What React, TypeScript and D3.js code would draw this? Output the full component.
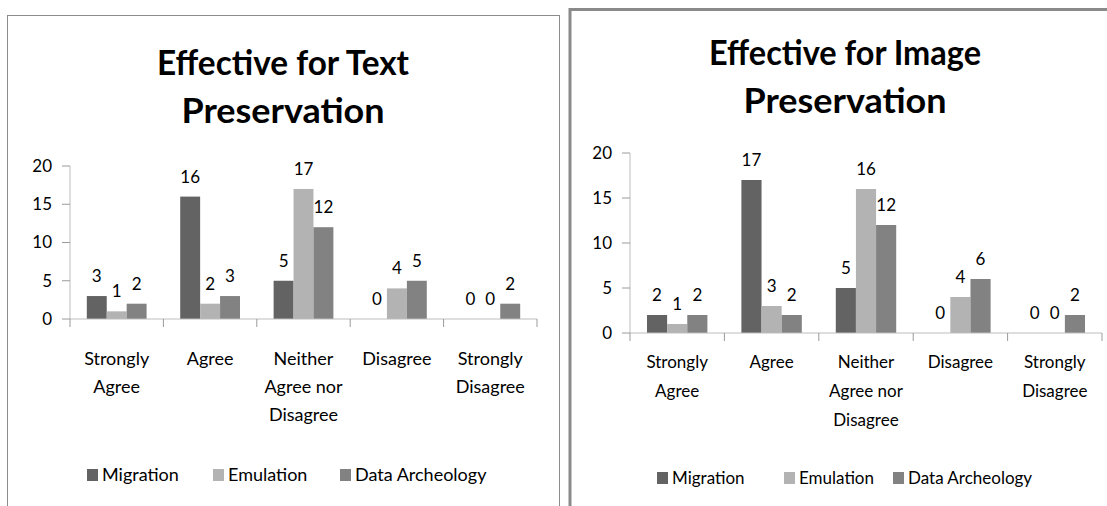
import React from "react";
import * as d3 from "d3";

const categories = [
  ["Strongly", "Agree"],
  ["Agree"],
  ["Neither", "Agree nor", "Disagree"],
  ["Disagree"],
  ["Strongly", "Disagree"],
];
const seriesNames = ["Migration", "Emulation", "Data Archeology"];
const seriesColors = ["#636363", "#b3b3b3", "#828282"];
const yTicks = [0, 5, 10, 15, 20];

const textMigration = [3, 16, 5, 0, 0];
const textEmulation = [1, 2, 17, 4, 0];
const textDataArcheology = [2, 3, 12, 5, 2];

const imageMigration = [2, 17, 5, 0, 0];
const imageEmulation = [1, 3, 16, 4, 0];
const imageDataArcheology = [2, 2, 12, 6, 2];

const FONT = "Lato, 'Open Sans', sans-serif";

type Layout = {
  title: string[];
  titleX: number;
  titleY: number[];
  titleWidths: number[];
  titleSize: number;
  x0: number;
  x1: number;
  yTop: number;
  yBottom: number;
  tickSize: number;
  catY: number;
  catStep: number;
  catSize: number;
  legendY: number;
  legendX: number[];
  legendSize: number;
};

function Chart({ values, layout }: { values: number[][]; layout: Layout }) {
  const L = layout;
  const x = d3
    .scaleBand<number>()
    .domain(categories.map((_, i) => i))
    .range([L.x0, L.x1]);
  const bw = x.bandwidth();
  const inner = d3
    .scaleBand<number>()
    .domain(seriesNames.map((_, i) => i))
    .range([bw * 0.18, bw * 0.82]);
  const y = d3.scaleLinear().domain([0, 20]).range([L.yBottom, L.yTop]);

  return (
    <g fontFamily={FONT}>
      {L.title.map((t, i) => (
        <text
          key={t}
          x={L.titleX}
          y={L.titleY[i]}
          textAnchor="middle"
          fontSize={L.titleSize}
          fontWeight="bold"
          textLength={L.titleWidths[i]}
          lengthAdjust="spacingAndGlyphs"
        >
          {t}
        </text>
      ))}

      {/* y axis */}
      <line x1={L.x0} x2={L.x0} y1={y(20)} y2={y(0)} stroke="#bdbdbd" />
      {yTicks.map((t) => (
        <g key={t}>
          <line x1={L.x0 - 8} x2={L.x0} y1={y(t)} y2={y(t)} stroke="#9a9a9a" />
          <text
            x={L.x0 - 18}
            y={y(t)}
            dy="0.35em"
            textAnchor="end"
            fontSize={L.tickSize}
          >
            {t}
          </text>
        </g>
      ))}

      {/* bars */}
      {values.map((vals, s) =>
        vals.map((v, c) => {
          const bx = (x(c) as number) + (inner(s) as number);
          return (
            <g key={`${s}-${c}`}>
              <rect
                x={bx}
                y={y(v)}
                width={inner.bandwidth()}
                height={y(0) - y(v)}
                fill={seriesColors[s]}
              />
              <text
                x={bx + inner.bandwidth() / 2}
                y={y(v) - 14}
                textAnchor="middle"
                fontSize={L.tickSize}
              >
                {v}
              </text>
            </g>
          );
        })
      )}

      {/* x axis */}
      <line x1={L.x0} x2={L.x1} y1={y(0)} y2={y(0)} stroke="#bdbdbd" />
      {d3.range(categories.length + 1).map((i) => {
        const tx = L.x0 + i * bw;
        return (
          <line key={i} x1={tx} x2={tx} y1={y(0)} y2={y(0) + 8} stroke="#9a9a9a" />
        );
      })}
      {categories.map((lines, c) => (
        <text
          key={c}
          x={(x(c) as number) + bw / 2}
          textAnchor="middle"
          fontSize={L.catSize}
        >
          {lines.map((ln, k) => (
            <tspan key={k} x={(x(c) as number) + bw / 2} y={L.catY + k * L.catStep}>
              {ln}
            </tspan>
          ))}
        </text>
      ))}

      {/* legend */}
      {seriesNames.map((n, s) => (
        <g key={n}>
          <rect
            x={L.legendX[s]}
            y={L.legendY - 12}
            width={11}
            height={12}
            fill={seriesColors[s]}
          />
          <text x={L.legendX[s] + 15} y={L.legendY} fontSize={L.legendSize}>
            {n}
          </text>
        </g>
      ))}
    </g>
  );
}

const leftLayout: Layout = {
  title: ["Effective for Text", "Preservation"],
  titleX: 283,
  titleY: [75, 123],
  titleWidths: [252, 203],
  titleSize: 35,
  x0: 70,
  x1: 537,
  yTop: 166,
  yBottom: 319,
  tickSize: 17,
  catY: 365,
  catStep: 28,
  catSize: 18,
  legendY: 481,
  legendX: [87, 213, 340],
  legendSize: 18,
};

const rightLayout: Layout = {
  title: ["Effective for Image", "Preservation"],
  titleX: 845,
  titleY: [65, 113],
  titleWidths: [272, 203],
  titleSize: 35,
  x0: 630,
  x1: 1102,
  yTop: 153,
  yBottom: 333,
  tickSize: 17,
  catY: 368,
  catStep: 29,
  catSize: 17,
  legendY: 484,
  legendX: [657, 784, 893],
  legendSize: 17,
};

export default function App() {
  return (
    <svg
      width={1107}
      height={506}
      style={{ position: "absolute", left: 0, top: 0, background: "#fff" }}
    >
      <rect x={0} y={0} width={1107} height={506} fill="#fff" />
      <rect x={7.5} y={15.5} width={552} height={600} fill="none" stroke="#8c8c8c" />
      <rect x={570} y={9.5} width={600} height={600} fill="none" stroke="#8a8a8a" strokeWidth={3} />
      <Chart values={[textMigration, textEmulation, textDataArcheology]} layout={leftLayout} />
      <Chart values={[imageMigration, imageEmulation, imageDataArcheology]} layout={rightLayout} />
    </svg>
  );
}
